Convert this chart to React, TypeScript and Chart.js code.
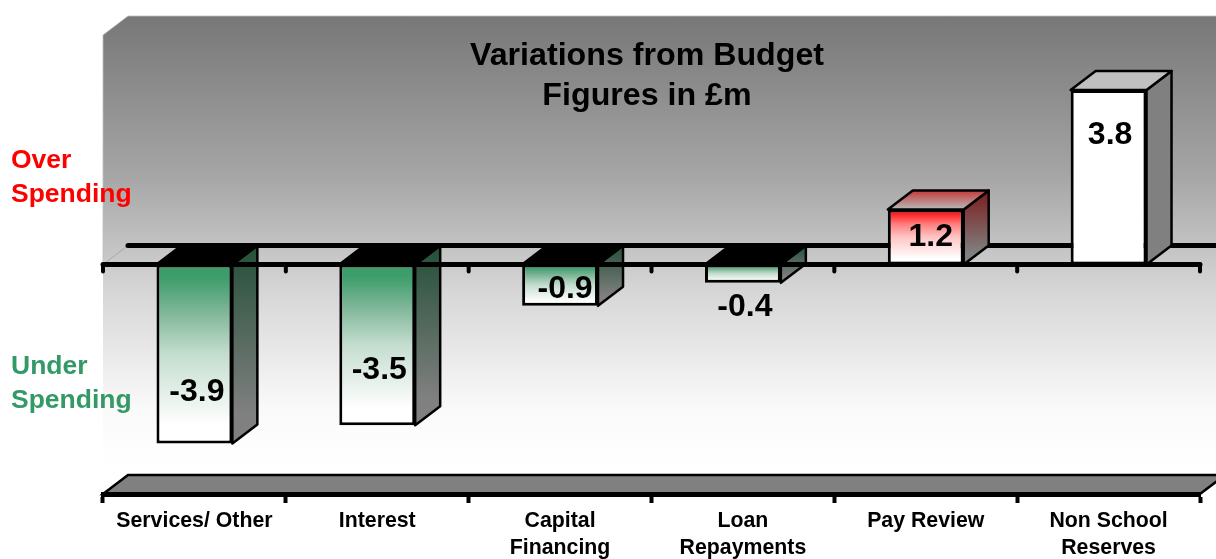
import React, { useEffect, useRef } from "react";
import { Chart, registerables } from "chart.js";

Chart.register(...registerables);

const categories = [
  "Services/ Other",
  "Interest",
  ["Capital", "Financing"],
  ["Loan", "Repayments"],
  "Pay Review",
  ["Non School", "Reserves"],
];
const variations = [-3.9, -3.5, -0.9, -0.4, 1.2, 3.8];
const barTones = ["green", "green", "green", "green", "red", "plain"];
const titleLines = ["Variations from Budget", "Figures in £m"];
const overLines = ["Over", "Spending"];
const underLines = ["Under", "Spending"];

const FONT = '"Liberation Sans", Arial, sans-serif';
const DX = 25;
const DY = 19;
const LABEL_NUDGE = [
  [2.5, -51],
  [2, -55],
  [5, -16.5],
  [2, 24.5],
  [5, 28],
  [1.5, 45],
];
const TONES: Record<string, any> = {
  green: {
    front: ["#3a9c68", "#3f9e6c", "#80b799", "#c4ddcf"],
    sideA: "#244f38",
    sideB: "#808080",
    topA: "#000000",
    topB: "#000000",
  },
  red: {
    front: ["#ff1010", "#ff2020", "#ff7f7f", "#ffc4c4"],
    sideA: "#7a1c1c",
    sideB: "#808080",
    topA: "#c43a3a",
    topB: "#b8b8b8",
  },
  plain: {
    front: ["#ffffff", "#ffffff", "#ffffff", "#ffffff"],
    sideA: "#808080",
    sideB: "#808080",
    topA: "#c0c0c0",
    topB: "#c0c0c0",
  },
};

function poly(ctx: CanvasRenderingContext2D, pts: number[][]) {
  ctx.beginPath();
  pts.forEach((p, i) => (i ? ctx.lineTo(p[0], p[1]) : ctx.moveTo(p[0], p[1])));
  ctx.closePath();
}

const scenery = {
  id: "scenery",
  beforeDraw(chart: any) {
    const { ctx, chartArea: a, scales } = chart;
    const zero = scales.y.getPixelForValue(0);
    const wall = ctx.createLinearGradient(0, a.top - DY, 0, a.bottom - DY);
    wall.addColorStop(0, "#777777");
    wall.addColorStop(0.35, "#a6a6a6");
    wall.addColorStop(0.6, "#d6d6d6");
    wall.addColorStop(0.85, "#f9f9f9");
    wall.addColorStop(0.95, "#fefefe");
    wall.addColorStop(1, "#ffffff");
    ctx.save();
    poly(ctx, [
      [a.left, a.top],
      [a.left + DX, a.top - DY],
      [a.right + DX, a.top - DY],
      [a.right + DX, a.bottom - DY],
      [a.left + DX, a.bottom - DY],
      [a.left, a.bottom],
    ]);
    ctx.fillStyle = wall;
    ctx.fill();
    ctx.strokeStyle = "rgba(190,190,190,0.8)";
    ctx.lineWidth = 1;
    ctx.beginPath();
    ctx.moveTo(a.left, zero);
    ctx.lineTo(a.left, a.top);
    ctx.lineTo(a.left + DX, a.top - DY);
    ctx.lineTo(a.right + DX, a.top - DY);
    ctx.stroke();

    // floor
    poly(ctx, [
      [a.left, a.bottom],
      [a.left + DX, a.bottom - DY],
      [a.right + DX, a.bottom - DY],
      [a.right, a.bottom],
    ]);
    ctx.fillStyle = "#808080";
    ctx.fill();
    ctx.strokeStyle = "#000000";
    ctx.lineWidth = 2.5;
    ctx.stroke();

    // zero plane
    ctx.strokeStyle = "#a8a8a8";
    ctx.lineWidth = 1;
    ctx.beginPath();
    ctx.moveTo(a.left, zero);
    ctx.lineTo(a.left + DX, zero - DY);
    ctx.stroke();
    ctx.strokeStyle = "#000000";
    ctx.lineWidth = 5;
    ctx.lineCap = "round";
    ctx.beginPath();
    ctx.moveTo(a.left + DX, zero - DY);
    ctx.lineTo(a.right + DX, zero - DY);
    ctx.stroke();
    ctx.restore();
  },
  beforeDatasetsDraw(chart: any) {
    const { ctx, scales } = chart;
    const zero = scales.y.getPixelForValue(0);
    const bars = chart.getDatasetMeta(0).data;
    ctx.save();
    ctx.strokeStyle = "#000000";
    ctx.lineWidth = 2.5;
    ctx.lineJoin = "round";
    bars.forEach((b: any, i: number) => {
      const tone = TONES[barTones[i]];
      const x1 = b.x - b.width / 2;
      const x2 = b.x + b.width / 2;
      const top = Math.min(b.y, zero);
      const bottom = Math.max(b.y, zero);
      const side = ctx.createLinearGradient(0, top - DY, 0, bottom);
      side.addColorStop(0, tone.sideA);
      side.addColorStop(0.85, tone.sideB);
      side.addColorStop(1, tone.sideB);
      poly(ctx, [
        [x2, top],
        [x2 + DX, top - DY],
        [x2 + DX, bottom - DY],
        [x2, bottom],
      ]);
      ctx.fillStyle = side;
      ctx.fill();
      ctx.stroke();
      const lid = ctx.createLinearGradient(0, top - DY, 0, top);
      lid.addColorStop(0, tone.topA);
      lid.addColorStop(1, tone.topB);
      poly(ctx, [
        [x1, top],
        [x1 + DX, top - DY],
        [x2 + DX, top - DY],
        [x2, top],
      ]);
      ctx.fillStyle = lid;
      ctx.fill();
      ctx.stroke();
    });
    ctx.restore();
  },
  afterDatasetsDraw(chart: any) {
    const { ctx, chartArea: a, scales } = chart;
    const zero = scales.y.getPixelForValue(0);
    ctx.save();
    ctx.strokeStyle = "#000000";
    ctx.lineCap = "round";
    ctx.lineWidth = 5;
    ctx.beginPath();
    ctx.moveTo(a.left, zero);
    ctx.lineTo(a.right, zero);
    ctx.stroke();
    ctx.lineWidth = 4;
    const step = (a.right - a.left) / categories.length;
    for (let i = 0; i <= categories.length; i++) {
      const x = a.left + step * i;
      ctx.beginPath();
      ctx.moveTo(x, zero);
      ctx.lineTo(x, zero + 7);
      ctx.stroke();
    }

    // value labels
    ctx.fillStyle = "#000000";
    ctx.textAlign = "center";
    ctx.textBaseline = "middle";
    ctx.font = `bold 32px ${FONT}`;
    chart.getDatasetMeta(0).data.forEach((b: any, i: number) => {
      ctx.fillText(variations[i].toFixed(1), b.x + LABEL_NUDGE[i][0], b.y + LABEL_NUDGE[i][1]);
    });

    // title
    ctx.font = `bold 32.2px ${FONT}`;
    titleLines.forEach((line, i) => ctx.fillText(line, 647, 56 + i * 40));

    // side captions
    ctx.textAlign = "left";
    ctx.font = `bold 26.5px ${FONT}`;
    ctx.fillStyle = "#ff0000";
    overLines.forEach((line, i) => ctx.fillText(line, 11, 161 + i * 34));
    ctx.fillStyle = "#339966";
    underLines.forEach((line, i) => ctx.fillText(line, 11, 367 + i * 34));
    ctx.restore();
  },
};

export default function App() {
  const ref = useRef<HTMLCanvasElement>(null);
  useEffect(() => {
    const chart = new Chart(ref.current as HTMLCanvasElement, {
      type: "bar",
      data: {
        labels: categories as any,
        datasets: [
          {
            data: variations,
            barPercentage: 0.415,
            categoryPercentage: 1,
            borderColor: "#000000",
            borderWidth: 3,
            borderSkipped: false,
            backgroundColor: (c: any) => {
              const { chart: ch, dataIndex } = c;
              const y = ch.scales.y;
              if (dataIndex === undefined || !y) return "#ffffff";
              const tone = TONES[barTones[dataIndex]];
              const zero = y.getPixelForValue(0);
              const end = y.getPixelForValue(variations[dataIndex]);
              if (!Number.isFinite(zero) || !Number.isFinite(end)) return "#ffffff";
              const g = ch.ctx.createLinearGradient(0, Math.min(zero, end), 0, Math.max(zero, end));
              g.addColorStop(0, tone.front[0]);
              g.addColorStop(0.08, tone.front[1]);
              g.addColorStop(0.27, tone.front[2]);
              g.addColorStop(0.5, tone.front[3]);
              g.addColorStop(0.9, "#ffffff");
              g.addColorStop(1, "#ffffff");
              return g;
            },
          },
        ],
      },
      options: {
        animation: false,
        responsive: false,
        devicePixelRatio: 1,
        layout: { padding: { left: 103, right: 16, top: 35, bottom: 0 } },
        plugins: { legend: { display: false }, tooltip: { enabled: false }, title: { display: false } },
        scales: {
          y: { display: false, min: -5, max: 5 },
          x: {
            afterFit: (s: any) => {
              s.height = 65;
            },
            grid: {
              drawOnChartArea: false,
              drawTicks: true,
              tickLength: 9,
              tickWidth: 4,
              tickColor: "#000000",
            },
            border: { display: true, color: "#000000", width: 5 },
            ticks: {
              autoSkip: false,
              maxRotation: 0,
              minRotation: 0,
              padding: 5,
              color: "#000000",
              font: { family: FONT, size: 21.3, weight: "bold", lineHeight: 1.27 },
            },
          },
        },
      },
      plugins: [scenery],
    } as any);
    return () => chart.destroy();
  }, []);
  return (
    <div style={{ position: "absolute", left: 0, top: 0, width: 1216, height: 559 }}>
      <canvas ref={ref} width={1216} height={559} style={{ display: "block" }} />
    </div>
  );
}
